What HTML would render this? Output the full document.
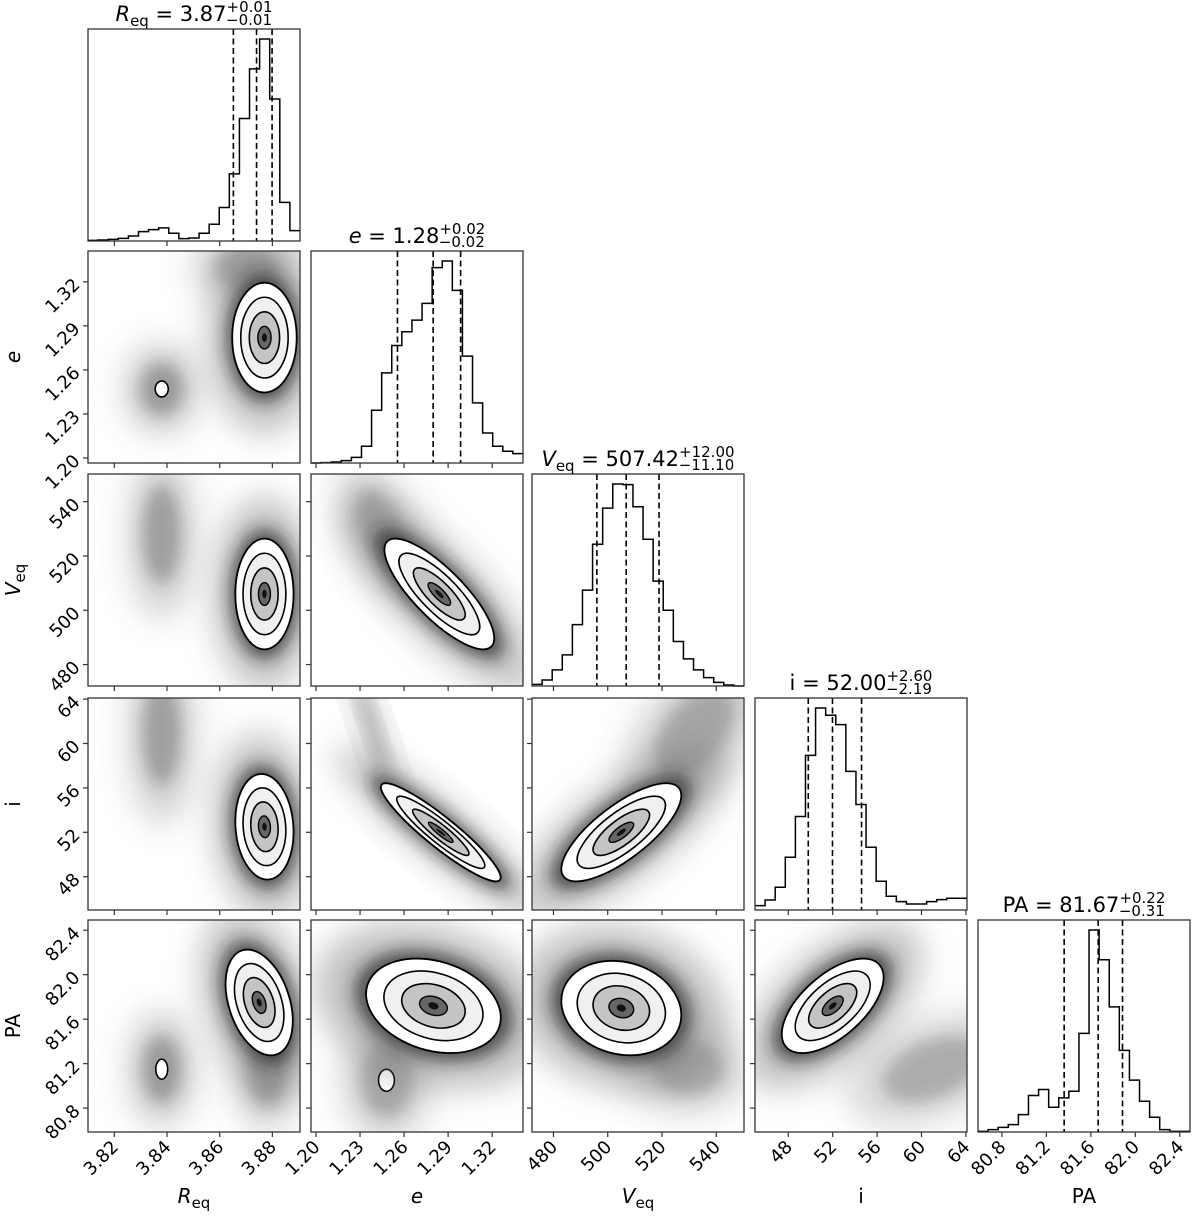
<!DOCTYPE html>
<html><head><meta charset="utf-8"><style>
html,body{margin:0;padding:0;background:#fff;}
svg{display:block;font-family:"DejaVu Sans","Liberation Sans",sans-serif;}
</style></head><body>
<svg id="chart" width="1200" height="1219" viewBox="0 0 1200 1219" xmlns="http://www.w3.org/2000/svg">
<defs>
<filter id="blur1" x="-50%" y="-50%" width="200%" height="200%"><feGaussianBlur stdDeviation="8"/></filter>
<filter id="blur2" x="-50%" y="-50%" width="200%" height="200%"><feGaussianBlur stdDeviation="16"/></filter>
</defs>
</svg>
<script>
// ---- data ----
const paramNames = ["Req","e","Veq","i","PA"];
const rangeLo = [3.810, 1.1966, 472.1, 45.0, 80.585];
const rangeHi = [3.8905, 1.3410, 550.2, 64.1, 82.492];
const tickReq = [3.82,3.84,3.86,3.88];
const tickE = [1.20,1.23,1.26,1.29,1.32];
const tickV = [480,500,520,540];
const tickI = [48,52,56,60,64];
const tickPA = [80.8,81.2,81.6,82.0,82.4];
const tickLabelReq = ["3.82","3.84","3.86","3.88"];
const tickLabelE = ["1.20","1.23","1.26","1.29","1.32"];
const tickLabelV = ["480","500","520","540"];
const tickLabelI = ["48","52","56","60","64"];
const tickLabelPA = ["80.8","81.2","81.6","82.0","82.4"];
const histReq = [2,3,5,8,15,28,34,39,23,7,9,23,50,100,200,365,513,602,423,115,31];
const histE = [0,1,3,7,17,50,158,270,352,393,428,478,585,605,517,320,180,90,50,35,28];
const histV = [5,18,48,93,183,286,423,531,603,601,535,438,313,226,133,81,48,25,11,3,0];
const histI = [13,30,68,158,280,463,605,583,555,415,316,188,86,41,25,18,18,25,31,35,35];
const histPA = [2,7,14,22,52,109,127,74,102,122,295,604,515,374,244,155,92,44,7,2,2];
const quantReq = [3.8652,3.8740,3.8799];
const quantE = [1.2555,1.2798,1.2985];
const quantV = [496.0,506.8,518.9];
const quantI = [49.80,51.98,54.60];
const quantPA = [81.36,81.666,81.885];
// 2D main components: [col,row,cx,cy,sx,sy,rho]
const mainComp = [
 [0,1,3.877,1.282,0.0072,0.022,0.0],
 [0,2,3.877,506,0.0065,12,0.0],
 [0,3,3.877,52.5,0.0065,2.8,-0.1],
 [0,4,3.875,81.75,0.0075,0.28,-0.35],
 [1,2,1.284,506,0.022,12,-0.8],
 [1,3,1.285,52,0.024,2.6,-0.92],
 [1,4,1.28,81.72,0.027,0.25,-0.25],
 [2,3,505,52,13,2.6,0.75],
 [2,4,505,81.7,13,0.25,-0.15],
 [3,4,52,81.72,2.7,0.25,0.6]
];
// secondary clouds: [col,row,cx,cy,sx,sy,rho,alpha,whiteCore]
const secComp = [
 [0,1,3.838,1.247,0.0055,0.012,0.0,0.6,1],
 [0,1,3.870,1.330,0.008,0.010,0.0,0.5,0],
 [0,2,3.838,528,0.005,12,0.0,0.55,0],
 [0,3,3.838,61,0.005,3.2,0.0,0.55,0],
 [0,4,3.838,81.15,0.005,0.2,0.0,0.6,1],
 [0,4,3.878,81.12,0.005,0.2,0.0,0.55,0],
 [1,2,1.245,530,0.012,10,-0.5,0.45,0],
 [1,3,1.238,61.5,0.008,3.0,-0.9,0.5,0],
 [1,4,1.248,81.05,0.012,0.22,0.0,0.5,1],
 [2,3,532,61,10,2.8,0.5,0.5,0],
 [2,4,530,81.15,9,0.16,0.0,0.45,0],
 [3,4,61,81.15,3,0.2,0.4,0.45,0]
];
// ---- layout ----
const panelLeft = [88,311,532,755,978];
const panelTop = [29,251,474,698,920];
const PS = 212;
const ticks = [tickReq,tickE,tickV,tickI,tickPA];
const tickLabels = [tickLabelReq,tickLabelE,tickLabelV,tickLabelI,tickLabelPA];
const hists = [histReq,histE,histV,histI,histPA];
const quants = [quantReq,quantE,quantV,quantI,quantPA];
const svg = document.getElementById('chart');
const NS = "http://www.w3.org/2000/svg";
function mk(tag, attrs, parent){const e=document.createElementNS(NS,tag);for(const k in attrs)e.setAttribute(k,attrs[k]);(parent||svg).appendChild(e);return e;}
function X(k,v){return panelLeft[k]+(v-rangeLo[k])/(rangeHi[k]-rangeLo[k])*PS;}
function Y(k,v){return panelTop[k]+PS-(v-rangeLo[k])/(rangeHi[k]-rangeLo[k])*PS;}

function ellipseParams(c,r,cx,cy,sx,sy,rho){
  const sxp=sx*PS/(rangeHi[c]-rangeLo[c]), syp=sy*PS/(rangeHi[r]-rangeLo[r]);
  const a=sxp*sxp, d=syp*syp, b=-rho*sxp*syp;
  const tr=(a+d)/2, det=Math.sqrt(((a-d)/2)**2+b*b);
  const l1=tr+det, l2=Math.max(tr-det,0.01);
  const ang=0.5*Math.atan2(2*b,a-d)*180/Math.PI;
  return {x:X(c,cx),y:Y(r,cy),r1:Math.sqrt(l1),r2:Math.sqrt(l2),ang:ang};
}
function drawEll(g,p,k,attrs){
  return mk('ellipse',Object.assign({cx:p.x,cy:p.y,rx:p.r1*k,ry:p.r2*k,transform:`rotate(${p.ang} ${p.x} ${p.y})`},attrs),g);
}

// 2D panels
for(let r=1;r<5;r++){
  for(let c=0;c<r;c++){
    const g=mk('g',{});
    
    
    const cid=`clip-${c}-${r}`;
    const cp=mk('clipPath',{id:cid},g);
    mk('rect',{x:panelLeft[c],y:panelTop[r],width:PS,height:PS},cp);
    const inner=mk('g',{'clip-path':`url(#${cid})`},g);
    secComp.filter(s=>s[0]===c&&s[1]===r).forEach(s=>{
      const p=ellipseParams(c,r,s[2],s[3],s[4],s[5],s[6]);
      const e1=drawEll(inner,p,2.6,{fill:'#666','fill-opacity':s[7]*0.55,filter:'url(#blur2)'});
      
      
      drawEll(inner,p,1.5,{fill:'#444','fill-opacity':s[7]*0.65,filter:'url(#blur1)'});
      if(s[8]){drawEll(inner,p,0.45,{fill:'#fff',stroke:'#000','stroke-width':1.6});}
    });
    mainComp.filter(m=>m[0]===c&&m[1]===r).forEach(m=>{
      const p=ellipseParams(c,r,m[2],m[3],m[4],m[5],m[6]);
      drawEll(inner,p,3.0,{fill:'#777','fill-opacity':0.45,filter:'url(#blur2)'});
      drawEll(inner,p,2.0,{fill:'#222','fill-opacity':0.7,filter:'url(#blur1)'});
      const o=drawEll(inner,p,1.7,{fill:'#fff',stroke:'#000','stroke-width':1.8});
      
      
      drawEll(inner,p,1.25,{fill:'#f0f0f0',stroke:'#000','stroke-width':1.6});
      drawEll(inner,p,0.8,{fill:'#c4c4c4',stroke:'#000','stroke-width':1.6});
      drawEll(inner,p,0.35,{fill:'#666',stroke:'#000','stroke-width':1.4});
      drawEll(inner,p,0.13,{fill:'#111'});
    });
    const fr=mk('rect',{x:panelLeft[c],y:panelTop[r],width:PS,height:PS,fill:'none',stroke:'#333','stroke-width':1.3},g);
    
    
  }
}

// histograms
for(let k=0;k<5;k++){
  const g=mk('g',{});
  
  
  const h=hists[k], n=h.length, mx=Math.max(...h)/0.953;
  const x0=panelLeft[k], y0=panelTop[k], bw=PS/n;
  const hy=v=>y0+PS-v/mx*PS;
  let d=`M${x0} ${hy(h[0])}`;
  for(let i=0;i<n;i++){d+=` L${x0+i*bw} ${hy(h[i])} L${x0+(i+1)*bw} ${hy(h[i])}`;}
  const p=mk('path',{d:d,fill:'none',stroke:'#000','stroke-width':1.5},g);
  
  
  quants[k].forEach(q=>{
    const l=mk('line',{x1:X(k,q),x2:X(k,q),y1:y0,y2:y0+PS,stroke:'#000','stroke-width':1.6,'stroke-dasharray':'6,3.5'},g);
    
    
  });
  mk('rect',{x:x0,y:y0,width:PS,height:PS,fill:'none',stroke:'#333','stroke-width':1.3},g);
}

// ticks
for(let r=0;r<5;r++){
  for(let c=0;c<=r;c++){
    ticks[c].forEach((t,i)=>{
      const x=X(c,t), yb=panelTop[r]+PS;
      mk('line',{x1:x,x2:x,y1:yb,y2:yb+5,stroke:'#333','stroke-width':1.2});
      if(r===4){
        const tx=mk('text',{x:x+5,y:yb+16,'font-size':18,'text-anchor':'end',transform:`rotate(-45 ${x+5} ${yb+16})`,fill:'#000'});
        tx.textContent=tickLabels[c][i];
        
        
      }
    });
    if(c<r){
      ticks[r].forEach((t,i)=>{
        const y=Y(r,t), xl=panelLeft[c];
        mk('line',{x1:xl-5,x2:xl,y1:y,y2:y,stroke:'#333','stroke-width':1.2});
        if(c===0){
          const tx=mk('text',{x:xl-7,y:y+4,'font-size':18,'text-anchor':'end',transform:`rotate(-45 ${xl-7} ${y+4})`,fill:'#000'});
          tx.textContent=tickLabels[r][i];
          
          
        }
      });
    }
  }
}

// axis labels
function label(x,y,main,sub,italic,rot,name){
  const t=mk('text',{x:x,y:y,'font-size':20,'text-anchor':'middle',fill:'#000'});
  if(rot)t.setAttribute('transform',`rotate(-90 ${x} ${y})`);
  const a=mk('tspan',{'font-style':italic?'italic':'normal'},t);a.textContent=main;
  if(sub){const b=mk('tspan',{'font-size':15,dy:5},t);b.textContent=sub;}
  
  
}
label(194,1203,'R','eq',true,false,'x-axis-label-req');
label(417,1203,'e','',true,false,'x-axis-label-e');
label(638,1203,'V','eq',true,false,'x-axis-label-veq');
label(861,1203,'i','',false,false,'x-axis-label-i');
label(1084,1203,'PA','',false,false,'x-axis-label-pa');
label(20,357,'e','',true,true,'y-axis-label-e');
label(20,580,'V','eq',true,true,'y-axis-label-veq');
label(20,804,'i','',false,true,'y-axis-label-i');
label(20,1026,'PA','',false,true,'y-axis-label-pa');

// titles
const titleMain=[["R","eq"," = 3.87",true],["e",""," = 1.28",true],["V","eq"," = 507.42",true],["i",""," = 52.00",false],["PA",""," = 81.67",false]];
const titlePlus=["+0.01","+0.02","+12.00","+2.60","+0.22"];
const titleMinus=["−0.01","−0.02","−11.10","−2.19","−0.31"];
for(let k=0;k<5;k++){
  const cx=panelLeft[k]+PS/2, y=panelTop[k]-8;
  const t=mk('text',{x:cx,y:y,'font-size':21,'text-anchor':'middle',fill:'#000'});
  
  
  const a=mk('tspan',{'font-style':titleMain[k][3]?'italic':'normal'},t);a.textContent=titleMain[k][0];
  if(titleMain[k][1]){const s=mk('tspan',{'font-size':15,dy:5},t);s.textContent=titleMain[k][1];
    const v=mk('tspan',{dy:-5},t);v.textContent=titleMain[k][2];}
  else{const v=mk('tspan',{},t);v.textContent=titleMain[k][2];}
  const sup=mk('tspan',{'font-size':15,dy:-9},t);sup.textContent=titlePlus[k];
  const w=titlePlus[k].length*9.3;
  const sb=mk('tspan',{'font-size':15,dx:-w,dy:13},t);sb.textContent=titleMinus[k];
}
</script>
</body></html>
